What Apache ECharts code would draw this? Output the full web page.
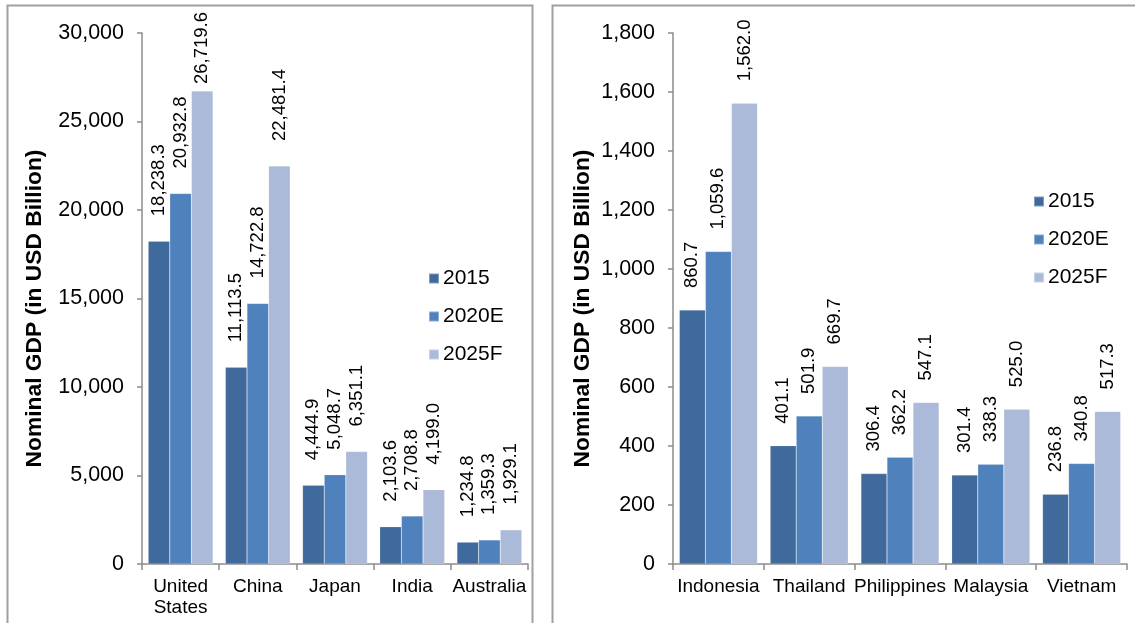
<!DOCTYPE html>
<html>
<head>
<meta charset="utf-8">
<title>Nominal GDP</title>
<script src="https://cdn.jsdelivr.net/npm/echarts@6/dist/echarts.min.js"></script>
<style>
  html, body { margin: 0; padding: 0; background: #fff; }
  #chart { width: 1135px; height: 623px; }
</style>
</head>
<body>
<div id="chart"></div>
<script>
// Nominal GDP, USD billion
const seriesNames = ['2015', '2020E', '2025F'];
const seriesColors = ['#40699C', '#4F81BD', '#AABAD8'];

const majorCountries = ['United\nStates', 'China', 'Japan', 'India', 'Australia'];
const major2015 = [18238.3, 11113.5, 4444.9, 2103.6, 1234.8];
const major2020E = [20932.8, 14722.8, 5048.7, 2708.8, 1359.3];
const major2025F = [26719.6, 22481.4, 6351.1, 4199.0, 1929.1];

const aseanCountries = ['Indonesia', 'Thailand', 'Philippines', 'Malaysia', 'Vietnam'];
const asean2015 = [860.7, 401.1, 306.4, 301.4, 236.8];
const asean2020E = [1059.6, 501.9, 362.2, 338.3, 340.8];
const asean2025F = [1562.0, 669.7, 547.1, 525.0, 517.3];

const leftTicks = { min: 0, max: 30000, interval: 5000 };
const rightTicks = { min: 0, max: 1800, interval: 200 };

const FONT = "'Liberation Sans', Arial, sans-serif";
const LABEL_SIZE = 18.5;
const axisGray = '#8C8C8C';

// plot area edges (px) shared by both panels
const PLOT_TOP = 33, PLOT_BOTTOM = 564, LABEL_CEILING = 12;

const fmtTick = v => v.toLocaleString('en-US', { maximumFractionDigits: 0 });
const fmtVal = v => v.toLocaleString('en-US', { minimumFractionDigits: 1, maximumFractionDigits: 1 });

const measureCtx = document.createElement('canvas').getContext('2d');
measureCtx.font = LABEL_SIZE + "px 'Liberation Sans', Arial, sans-serif";

// Value labels sit a fixed gap above each bar, but are pulled down
// onto the bar when they would run past the top of the panel.
function withLabelFit(values, ticks, gap) {
  return values.map(v => {
    const barTop = PLOT_BOTTOM - (v - ticks.min) / (ticks.max - ticks.min) * (PLOT_BOTTOM - PLOT_TOP);
    const len = measureCtx.measureText(fmtVal(v)).width;
    const room = barTop - LABEL_CEILING - len;
    const d = Math.max(2, Math.min(gap, room));
    return d < gap ? { value: v, label: { distance: d } } : v;
  });
}

function xAxisFor(gridIndex, cats) {
  return {
    type: 'category', gridIndex, data: cats,
    axisLine: { lineStyle: { color: axisGray, width: 1.5 } },
    axisTick: { show: true, length: 6, lineStyle: { color: axisGray, width: 1.5 } },
    axisLabel: { color: '#000', fontSize: 19, fontFamily: FONT, margin: 12, lineHeight: 21, interval: 0 }
  };
}

function yAxisFor(gridIndex, ticks, nameGap) {
  return {
    type: 'value', gridIndex, min: ticks.min, max: ticks.max, interval: ticks.interval,
    name: 'Nominal GDP (in USD Billion)', nameLocation: 'middle', nameGap,
    nameTextStyle: { color: '#000', fontSize: 22.8, fontWeight: 'bold', fontFamily: FONT, padding: [0, 20, 0, 0] },
    axisLine: { show: true, lineStyle: { color: axisGray, width: 1.5 } },
    axisTick: { show: true, length: 5, lineStyle: { color: axisGray, width: 1.5 } },
    splitLine: { show: false },
    axisLabel: { color: '#000', fontSize: 21.5, fontFamily: FONT, margin: 18, formatter: fmtTick }
  };
}

function barSeries(name, color, values, ticks, idx, gap, dist) {
  return {
    type: 'bar', name, data: withLabelFit(values, ticks, dist), xAxisIndex: idx, yAxisIndex: idx,
    barGap: '0%', barCategoryGap: gap,
    itemStyle: { color, borderColor: 'rgba(255,255,255,0.35)', borderWidth: 0.5 },
    label: {
      show: true, position: 'top', rotate: 90, distance: dist,
      align: 'left', verticalAlign: 'middle',
      color: '#000', fontSize: LABEL_SIZE, fontFamily: FONT,
      formatter: p => fmtVal(p.value)
    }
  };
}

function legendAt(left, top) {
  return {
    orient: 'vertical', left, top,
    data: seriesNames, icon: 'rect', itemWidth: 10, itemHeight: 10, itemGap: 17,
    textStyle: { color: '#000', fontSize: 21, fontFamily: FONT, padding: [0, 0, 0, -1] }
  };
}

const chart = echarts.init(document.getElementById('chart'));
chart.setOption({
  animation: false,
  backgroundColor: '#fff',
  textStyle: { fontFamily: FONT },
  grid: [
    { left: 142, right: 1135 - 528, top: PLOT_TOP, bottom: 623 - PLOT_BOTTOM },
    { left: 673, right: 1135 - 1127, top: PLOT_TOP, bottom: 623 - PLOT_BOTTOM }
  ],
  xAxis: [xAxisFor(0, majorCountries), xAxisFor(1, aseanCountries)],
  yAxis: [yAxisFor(0, leftTicks, 96), yAxisFor(1, rightTicks, 79)],
  legend: [legendAt(423, 263), legendAt(1028, 186)],
  series: [
    barSeries(seriesNames[0], seriesColors[0], major2015, leftTicks, 0, '16%', 25),
    barSeries(seriesNames[1], seriesColors[1], major2020E, leftTicks, 0, '16%', 25),
    barSeries(seriesNames[2], seriesColors[2], major2025F, leftTicks, 0, '16%', 25),
    barSeries(seriesNames[0], seriesColors[0], asean2015, rightTicks, 1, '14%', 22),
    barSeries(seriesNames[1], seriesColors[1], asean2020E, rightTicks, 1, '14%', 22),
    barSeries(seriesNames[2], seriesColors[2], asean2025F, rightTicks, 1, '14%', 22)
  ],
  graphic: [
    { type: 'rect', shape: { x: 7.5, y: 5.5, width: 525, height: 700 },
      style: { fill: 'none', stroke: '#A0A0A0', lineWidth: 2 }, silent: true, z: -1 },
    { type: 'rect', shape: { x: 552.5, y: 5.5, width: 700, height: 700 },
      style: { fill: 'none', stroke: '#A0A0A0', lineWidth: 2 }, silent: true, z: -1 }
  ]
});
</script>
</body>
</html>
